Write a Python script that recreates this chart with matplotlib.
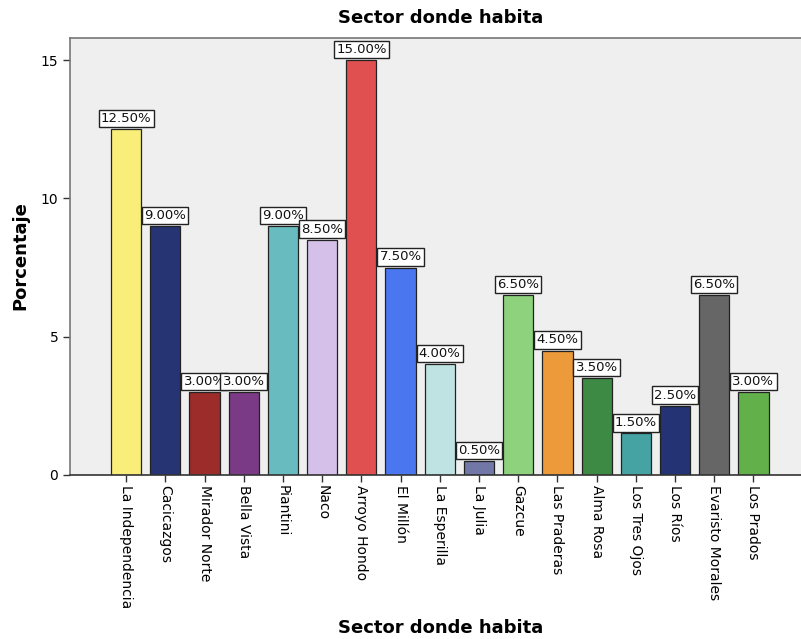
import matplotlib
matplotlib.use("Agg")
import matplotlib.pyplot as plt
import numpy as np

# Distribución de encuestados por sector
sectores = ["La Independencia", "Cacicazgos", "Mirador Norte", "Bella Vista",
            "Piantini", "Naco", "Arroyo Hondo", "El Millón", "La Esperilla",
            "La Julia", "Gazcue", "Las Praderas", "Alma Rosa", "Los Tres Ojos",
            "Los Ríos", "Evaristo Morales", "Los Prados"]
porcentajes = [12.5, 9.0, 3.0, 3.0, 9.0, 8.5, 15.0, 7.5, 4.0,
               0.5, 6.5, 4.5, 3.5, 1.5, 2.5, 6.5, 3.0]
colores = ["#f9ee7a", "#263473", "#9b2c2a", "#7a3a86", "#68bcc0", "#d5c0ea",
           "#e05050", "#4a76f0", "#bfe3e3", "#7178a8", "#8ed27e", "#ec9a3a",
           "#3d8a45", "#45a3a3", "#233373", "#666666", "#62b04a"]

fig = plt.figure(figsize=(8.01, 6.39), dpi=100)
ax = fig.add_axes([0.0874, 0.2567, 0.912, 0.6838])
ax.set_facecolor("#efefef")

x = np.arange(len(sectores))
ax.bar(x, porcentajes, width=0.77, color=colores, edgecolor="#222222",
       linewidth=0.9, zorder=2)

for xi, v in zip(x, porcentajes):
    ax.annotate(f"{v:.2f}%", xy=(xi, v), xytext=(0, 3),
                textcoords="offset points", ha="center", va="bottom",
                fontsize=9.5, color="#111111", zorder=4,
                bbox=dict(boxstyle="square,pad=0.17", fc="white",
                          ec="#222222", lw=1.0))

ax.set_xlim(-1.43, 17.2)
ax.set_ylim(0, 15.8)
ax.set_yticks([0, 5, 10, 15])
ax.set_xticks(x)
ax.set_xticklabels(sectores, rotation=270, fontsize=10)
ax.tick_params(axis="y", labelsize=10, length=5, width=1, color="#333333")
ax.tick_params(axis="x", length=5, width=1, color="#333333", pad=2)

for lado in ["top", "left"]:
    ax.spines[lado].set_color("#777777")
    ax.spines[lado].set_linewidth(1.2)
ax.spines["right"].set_visible(False)
ax.spines["bottom"].set_color("#333333")
ax.spines["bottom"].set_linewidth(1.2)

fig.text(0.55, 0.972, "Sector donde habita", ha="center", va="center",
         fontsize=13, fontweight="bold")
fig.text(0.55, 0.017, "Sector donde habita", ha="center", va="center",
         fontsize=13, fontweight="bold")
fig.text(0.025, 0.6, "Porcentaje", ha="center", va="center", rotation=90,
         fontsize=13, fontweight="bold")

fig.savefig("out.png", dpi=100, facecolor="white")
